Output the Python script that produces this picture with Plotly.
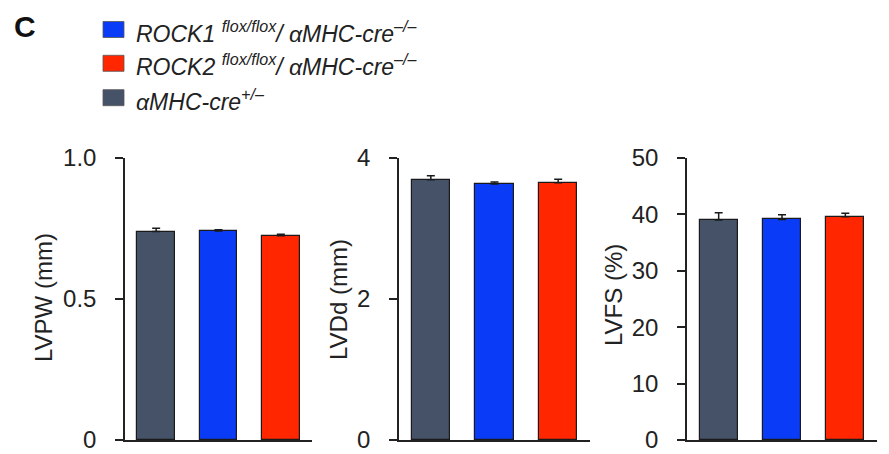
import plotly.graph_objects as go

# ---- data ----
groups = ["αMHC-cre+/–", "ROCK1 flox/flox/ αMHC-cre–/–", "ROCK2 flox/flox/ αMHC-cre–/–"]
group_colors = ["#465268", "#0a3cf8", "#ff2600"]
legend_labels = [
    "<i>ROCK1 <sup>flox/flox</sup>/ αMHC-cre<sup>–/–</sup></i>",
    "<i>ROCK2 <sup>flox/flox</sup>/ αMHC-cre<sup>–/–</sup></i>",
    "<i>αMHC-cre<sup>+/–</sup></i>",
]
legend_colors = ["#0a3cf8", "#ff2600", "#465268"]

lvpw = [0.739, 0.741, 0.724]
lvpw_err = [0.012, 0.005, 0.006]
lvdd = [3.69, 3.63, 3.65]
lvdd_err = [0.06, 0.03, 0.05]
lvfs = [39.0, 39.1, 39.6]
lvfs_err = [1.3, 0.85, 0.6]

panel_titles = ["LVPW (mm)", "LVDd (mm)", "LVFS (%)"]
panel_values = [lvpw, lvdd, lvfs]
panel_errors = [lvpw_err, lvdd_err, lvfs_err]
panel_ranges = [[0, 1.0], [0, 4], [0, 50]]
panel_tickvals = [[0, 0.5, 1.0], [0, 2, 4], [0, 10, 20, 30, 40, 50]]
panel_ticktext = [["0", "0.5", "1.0"], ["0", "2", "4"], ["0", "10", "20", "30", "40", "50"]]

# ---- layout geometry (target pixels in the screenshot) ----
W, H = 889, 454
OFF = 8  # page body margin offset
def px(x):
    return (x - OFF) / W
def py(y):
    return 1 - (y - OFF) / H

x_domains_px = [(125, 312), (399, 590), (687, 877)]
x_range = [-0.5, 2.5]
y_domain_px = (440, 158)
title_pos_px = [(43, 298), (338, 300), (613, 295)]

FONT = "Liberation Sans, Arial, Helvetica, sans-serif"
AXC = "#222222"

fig = go.Figure()
for i in range(3):
    xa = "x" if i == 0 else f"x{i+1}"
    ya = "y" if i == 0 else f"y{i+1}"
    fig.add_trace(go.Bar(
        x=[0, 1, 2], y=panel_values[i],
        marker=dict(color=group_colors, line=dict(color="#1a1a1a", width=1.2)),
        width=0.6,
        error_y=dict(type="data", symmetric=False, array=panel_errors[i],
                     arrayminus=[0, 0, 0], color="#1a1a1a", thickness=1.5, width=4),
        xaxis=xa, yaxis=ya, showlegend=False, hoverinfo="y",
    ))

layout = dict(
    width=W, height=H, margin=dict(l=0, r=0, t=0, b=0, autoexpand=False),
    paper_bgcolor="white", plot_bgcolor="white",
    font=dict(family=FONT, color="#222222"),
    showlegend=False, bargap=0,
)
for i in range(3):
    xk = "xaxis" if i == 0 else f"xaxis{i+1}"
    yk = "yaxis" if i == 0 else f"yaxis{i+1}"
    x0, x1 = x_domains_px[i]
    layout[xk] = dict(
        domain=[px(x0), px(x1)], range=x_range,
        showticklabels=False, ticks="", showgrid=False, zeroline=False,
        showline=True, linecolor=AXC, linewidth=1.5, automargin=False,
        anchor="y" if i == 0 else f"y{i+1}", fixedrange=True,
    )
    layout[yk] = dict(
        domain=[py(y_domain_px[0]), py(y_domain_px[1])],
        range=panel_ranges[i], tickvals=panel_tickvals[i], ticktext=panel_ticktext[i],
        ticks="outside", ticklen=8, tickwidth=1.5, tickcolor=AXC,
        ticklabelstandoff=14,
        tickfont=dict(size=24, family=FONT, color="#222222"),
        showgrid=False, zeroline=False, showline=True, linecolor=AXC, linewidth=1.5,
        automargin=False,
        anchor="x" if i == 0 else f"x{i+1}", fixedrange=True,
    )
fig.update_layout(**layout)

# axis titles
for i in range(3):
    tx, ty = title_pos_px[i]
    fig.add_annotation(
        text=panel_titles[i], xref="paper", yref="paper",
        x=px(tx), y=py(ty), xanchor="center", yanchor="middle",
        textangle=-90, showarrow=False,
        font=dict(size=24, family=FONT, color="#222222"),
    )

# panel letter
fig.add_annotation(text="<b>C</b>", xref="paper", yref="paper",
                   x=px(25), y=py(8), xanchor="center", yanchor="top",
                   showarrow=False, font=dict(size=30, family=FONT, color="#111111"))

# legend
row_y = [29.5, 63.3, 97.7]
for j in range(3):
    cy = row_y[j]
    fig.add_shape(type="rect", xref="paper", yref="paper",
                  x0=px(103), x1=px(124), y0=py(cy + 8), y1=py(cy - 8),
                  fillcolor=legend_colors[j], line=dict(color="#555555", width=0.8))
    fig.add_annotation(text=legend_labels[j], xref="paper", yref="paper",
                       x=px(134), y=py(cy + 2), xanchor="left", yanchor="middle",
                       showarrow=False, font=dict(size=23, family=FONT, color="#222222"))

fig.write_html("out.html")
